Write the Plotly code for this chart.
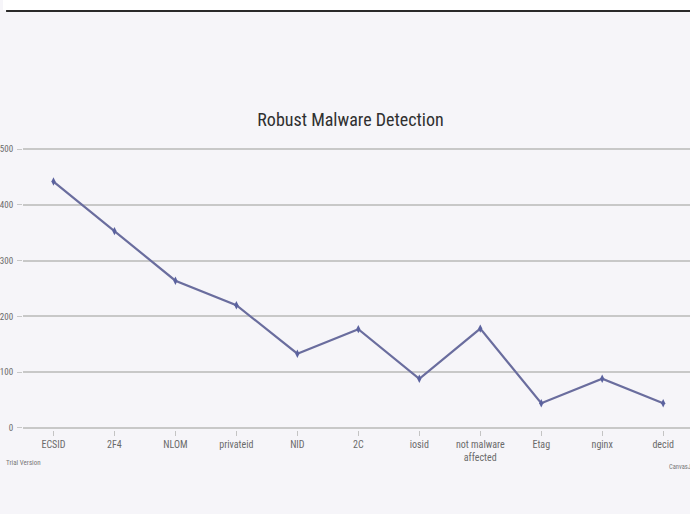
import plotly.graph_objects as go

categories = ["ECSID", "2F4", "NLOM", "privateid", "NID", "2C", "iosid",
              "not malware<br>affected", "Etag", "nginx", "decid"]
values = [442, 353, 264, 220, 133, 177, 88, 178, 44, 88, 44]
y_ticks = [0, 100, 200, 300, 400, 500]

font_narrow = "Roboto Condensed, Liberation Sans Narrow, sans-serif"

PLOT_W, PLOT_H = 670, 283
TOP, BOTTOM = 147, 84

fig = go.Figure()
fig.add_trace(go.Scatter(
    x=categories, y=values, mode="lines+markers",
    line=dict(color="#6a6d9e", width=2.2),
    marker=dict(color="#5b629f", size=6, symbol="diamond-tall"),
    showlegend=False,
))

fig.update_layout(
    width=690, height=514,
    margin=dict(l=20, r=0, t=TOP, b=BOTTOM),
    paper_bgcolor="#f6f5f9",
    plot_bgcolor="#f6f5f9",
    title=dict(text="Robust Malware Detection", x=0.508, xanchor="center",
               y=1 - 120 / 514, yanchor="middle",
               font=dict(family=font_narrow, size=18, color="#303030")),
    xaxis=dict(
        type="category", range=[-0.5, 10.44],
        showgrid=False, showline=False, zeroline=False,
        ticks="outside", ticklen=5, tickcolor="#c4c4c4", tickwidth=1,
        tickfont=dict(family=font_narrow, size=10, color="#6a6a6a"),
        ticklabelstandoff=0,
    ),
    yaxis=dict(
        range=[-4, 504], tickvals=y_ticks,
        showgrid=True, gridcolor="#c8c8c8", gridwidth=1.5,
        zeroline=False, showline=False,
        ticks="outside", ticklen=5, tickcolor="#c8c8c8", tickwidth=1,
        tickfont=dict(family=font_narrow, size=9, color="#6a6a6a"),
        ticklabelstandoff=2,
    ),
    shapes=[
        dict(type="rect", xref="paper", yref="paper", layer="above",
             x0=-20 / PLOT_W, x1=1, y0=1 + 137 / PLOT_H, y1=1 + TOP / PLOT_H,
             fillcolor="#ffffff", line=dict(width=0)),
        dict(type="line", xref="paper", yref="paper", layer="above",
             x0=-17 / PLOT_W, x1=1, y0=1 + 136 / PLOT_H, y1=1 + 136 / PLOT_H,
             line=dict(color="#2a2a2a", width=2)),
    ],
    annotations=[
        dict(text="Trial Version", xref="paper", yref="paper",
             x=-19 / PLOT_W, y=-33 / PLOT_H, xanchor="left", yanchor="middle",
             showarrow=False, font=dict(family=font_narrow, size=7, color="#777777")),
        dict(text="CanvasJS.com", xref="paper", yref="paper",
             x=647 / PLOT_W, y=-37 / PLOT_H, xanchor="left", yanchor="middle",
             showarrow=False, font=dict(family=font_narrow, size=6.5, color="#777777")),
    ],
)

fig.write_html("out.html")
